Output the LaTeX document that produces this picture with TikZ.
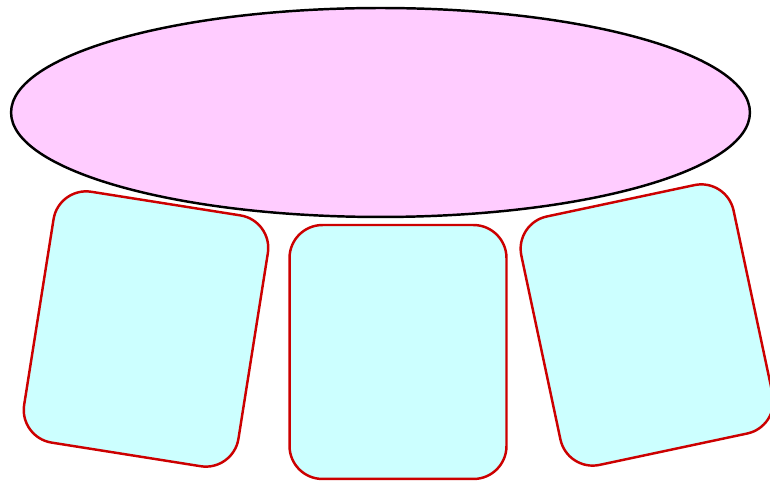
\documentclass[tikz,border=0pt]{standalone}
\usetikzlibrary{shapes.geometric,positioning}
\definecolor{TopClr}{rgb}{1,0.8,1}
\definecolor{BoxClr}{rgb}{0.8,1,1}
\definecolor{EdgeClr}{rgb}{0.8,0,0}

\begin{document}
\begin{tikzpicture}[x=0.02cm,y=0.02cm,
  topblob/.style={ellipse,draw=black,line width=1.4pt,fill=TopClr,
    minimum width=14.78cm,minimum height=4.18cm,inner sep=0pt},
  tile/.style={rectangle,draw=EdgeClr,line width=1.4pt,fill=BoxClr,
    rounded corners=0.66cm,minimum width=4.34cm,minimum height=5.08cm,inner sep=0pt}]
\useasboundingbox (0,0) rectangle (770,486);

\node[topblob] (top) at (380.5,373.5) {};

\node[tile,rotate=-9] (left) at (146,157) {};
\node[tile] (mid) at (398,134) {};
\node[tile,rotate=12] (right) at (647,161) {};

\end{tikzpicture}
\end{document}
